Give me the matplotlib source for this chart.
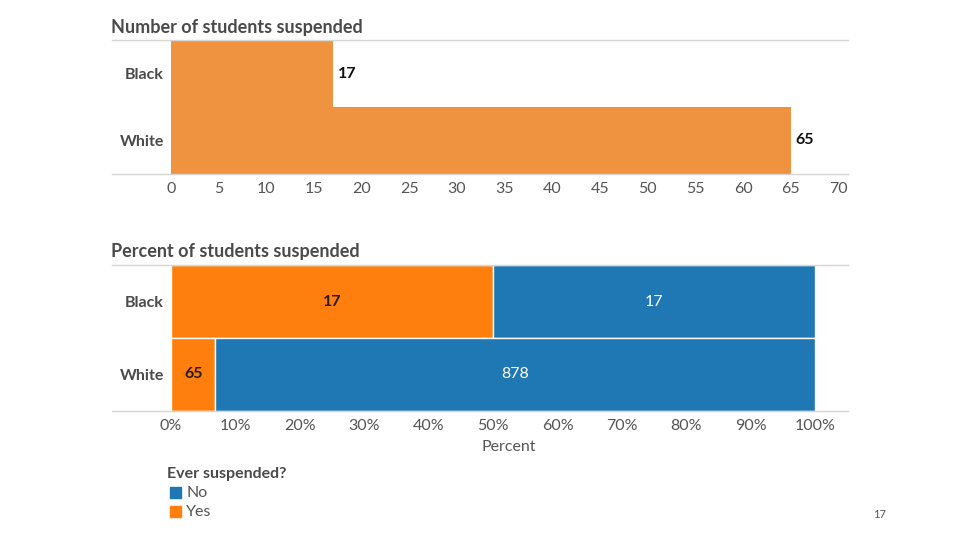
import matplotlib
matplotlib.use('Agg')
import matplotlib.pyplot as plt
from matplotlib.lines import Line2D
import numpy as np

plt.rcParams['font.family'] = ['Lato', 'DejaVu Sans']

groups = ['Black', 'White']
suspended_yes = [17, 65]
suspended_no = [17, 878]

top_orange = '#EF9340'
c_yes = '#FF7F0E'
c_no = '#1F77B4'
label_gray = '#4a4a4a'
tick_gray = '#555555'
line_gray = '#d6d6d6'

fig = plt.figure(figsize=(9.6, 5.4), dpi=100)

W, H = 960, 540


def fx(px):
    return px / W


def fy(py):
    return 1 - py / H


# top panel: counts
ax1 = fig.add_axes([fx(171), fy(174), fx(848 - 171), fy(40) - fy(174)])
ypos = np.arange(len(groups))
ax1.barh(ypos, suspended_yes, height=1.0, color=top_orange, edgecolor='none')
ax1.set_xlim(0, 71)
ax1.set_ylim(len(groups) - 0.5, -0.5)
ax1.set_xticks(range(0, 71, 5))
for i, v in enumerate(suspended_yes):
    ax1.text(v + 0.5, i, str(v), va='center', ha='left', fontsize=11.5,
             fontweight='bold', color='#111111')

# bottom panel: percent
totals = np.array(suspended_yes) + np.array(suspended_no)
pct_yes = np.array(suspended_yes) / totals * 100
pct_no = np.array(suspended_no) / totals * 100

ax2 = fig.add_axes([fx(171), fy(411), fx(848 - 171), fy(265) - fy(411)])
ax2.barh(ypos, pct_yes, height=1.0, color=c_yes, edgecolor='white', linewidth=1)
ax2.barh(ypos, pct_no, left=pct_yes, height=1.0, color=c_no, edgecolor='white', linewidth=1)
ax2.set_xlim(0, 105.1)
ax2.set_ylim(len(groups) - 0.5, -0.5)
ax2.set_xticks(range(0, 101, 10))
ax2.set_xticklabels([f'{t}%' for t in range(0, 101, 10)])
for i in range(len(groups)):
    ax2.text(pct_yes[i] / 2, i, str(suspended_yes[i]), va='center', ha='center',
             fontsize=11.5, fontweight='bold', color='#2a1a0a')
    ax2.text(pct_yes[i] + pct_no[i] / 2, i, str(suspended_no[i]), va='center',
             ha='center', fontsize=11.5, color='white')

for ax in (ax1, ax2):
    for s in ax.spines.values():
        s.set_visible(False)
    ax.set_yticks(ypos)
    ax.set_yticklabels(groups, fontsize=11.5, fontweight='bold', color=label_gray)
    ax.tick_params(axis='y', length=0, pad=5)
    ax.tick_params(axis='x', length=0, labelsize=11.5, labelcolor=tick_gray, pad=6)

# gray rule lines extending left of the axes
for py in (40, 174, 265, 411):
    fig.add_artist(Line2D([fx(112), fx(848)], [fy(py), fy(py)], color=line_gray,
                          lw=1, transform=fig.transFigure))

fig.text(fx(111), fy(27), 'Number of students suspended', fontsize=13,
         fontweight='bold', color=label_gray, va='center')
fig.text(fx(111), fy(252), 'Percent of students suspended', fontsize=13,
         fontweight='bold', color=label_gray, va='center')
fig.text(fx(509), fy(447), 'Percent', fontsize=11.5, color=tick_gray,
         ha='center', va='center')

# legend
fig.text(fx(167), fy(474), 'Ever suspended?', fontsize=11.5, fontweight='bold',
         color=label_gray, va='center')
leg_items = [('No', c_no, 493), ('Yes', c_yes, 512)]
for name, col, py in leg_items:
    fig.patches.append(plt.Rectangle((fx(170), fy(py + 5)), fx(11), fy(py - 6) - fy(py + 5),
                                     transform=fig.transFigure, color=col))
    fig.text(fx(186), fy(py), name, fontsize=11.5, color=tick_gray, va='center')

fig.text(fx(880), fy(514), '17', fontsize=8, color='#555555', ha='center', va='center')

fig.savefig('out.png', dpi=100)
